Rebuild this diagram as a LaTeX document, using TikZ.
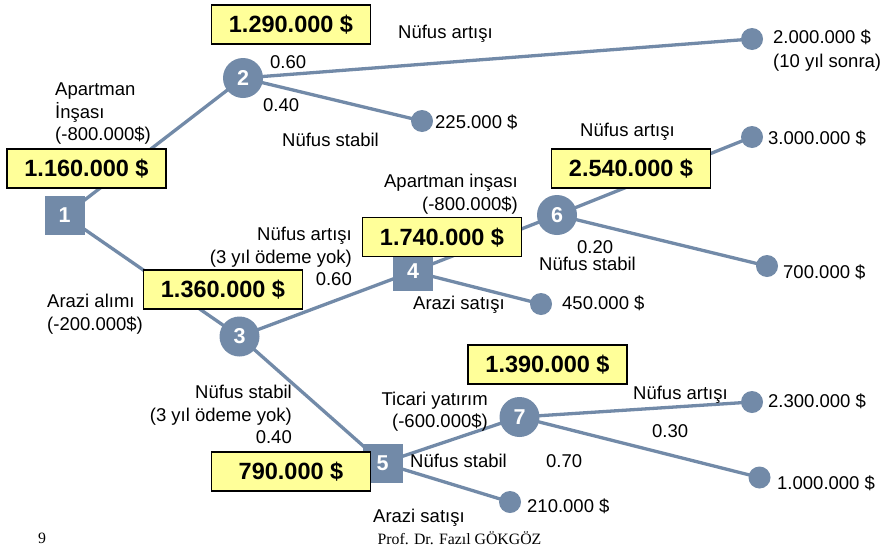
\documentclass[tikz,border=0pt]{standalone}
\usepackage{fontspec}
\setmainfont{Liberation Sans}
\newfontfamily\footfont{Liberation Serif}
\definecolor{nodeblue}{RGB}{114,138,168}
\definecolor{boxyellow}{RGB}{255,255,153}
\begin{document}
\begin{tikzpicture}[x=1pt,y=-1pt,
  edge/.style={draw=nodeblue,line width=3.3pt},
  chance/.style={circle,fill=nodeblue,minimum size=40pt,inner sep=0pt,text=white,font=\fontsize{21.5}{24}\selectfont\bfseries},
  decision/.style={rectangle,fill=nodeblue,minimum width=40pt,minimum height=39pt,inner sep=0pt,text=white,font=\fontsize{21.5}{24}\selectfont\bfseries},
  leaf/.style={circle,fill=nodeblue,minimum size=22pt,inner sep=0pt},
  valbox/.style={rectangle,draw=black,line width=1.2pt,fill=boxyellow,minimum width=159pt,minimum height=39pt,inner sep=0pt,text height=16.8pt,text depth=0pt,font=\fontsize{23.5}{28}\selectfont\bfseries},
  lbl/.style={inner sep=0pt,font=\fontsize{18.5}{22.5}\selectfont},
  foot/.style={inner sep=0pt,font=\footfont\fontsize{15.8}{18}\selectfont},
]
\fill[white] (0,0) rectangle (885,549);
\useasboundingbox (0,0) rectangle (885,549);

% coordinates of nodes
\coordinate (c1) at (64.5,215.5);
\coordinate (c2) at (243,78);
\coordinate (c3) at (239.5,336.5);
\coordinate (c4) at (413,271.5);
\coordinate (c5) at (382.5,463);
\coordinate (c6) at (557,215);
\coordinate (c7) at (519.5,417);
\coordinate (l2a) at (752,39);
\coordinate (l2b) at (422,121);
\coordinate (l6a) at (752,137);
\coordinate (l6b) at (767,266);
\coordinate (l4) at (541,304);
\coordinate (l5) at (510,502);
\coordinate (l7a) at (752,402);
\coordinate (l7b) at (759.5,477.5);

% connectors
\draw[edge] (c1) -- (c2);
\draw[edge] (c1) -- (c3);
\draw[edge] (c2) -- (l2a);
\draw[edge] (c2) -- (l2b);
\draw[edge] (c3) -- (c4);
\draw[edge] (c3) -- (c5);
\draw[edge] (c4) -- (c6);
\draw[edge] (c4) -- (l4);
\draw[edge] (c6) -- (l6a);
\draw[edge] (c6) -- (l6b);
\draw[edge] (c5) -- (c7);
\draw[edge] (c5) -- (l5);
\draw[edge] (c7) -- (l7a);
\draw[edge] (c7) -- (l7b);

% nodes
\node[decision] (n1) at (c1) {1};
\node[chance] (n2) at (c2) {2};
\node[chance] (n3) at (c3) {3};
\node[decision] (n4) at (c4) {4};
\node[decision] (n5) at (c5) {5};
\node[chance] (n6) at (c6) {6};
\node[chance] (n7) at (c7) {7};
\node[leaf] (e2a) at (l2a) {};
\node[leaf] (e2b) at (l2b) {};
\node[leaf] (e6a) at (l6a) {};
\node[leaf] (e6b) at (l6b) {};
\node[leaf] (e4) at (l4) {};
\node[leaf] (e5) at (l5) {};
\node[leaf] (e7a) at (l7a) {};
\node[leaf] (e7b) at (l7b) {};

% value boxes
\node[valbox] (v2) at (291,24.5) {1.290.000 \$};
\node[valbox] (v1) at (86.5,168.5) {1.160.000 \$};
\node[valbox] (v3) at (223,289.5) {1.360.000 \$};
\node[valbox] (v4) at (442,237) {1.740.000 \$};
\node[valbox] (v6) at (631,168.5) {2.540.000 \$};
\node[valbox] (v7) at (547.5,364.5) {1.390.000 \$};
\node[valbox] (v5) at (291,471.5) {790.000 \$};

% labels
\node[lbl,anchor=north west,align=left] (tA) at (55,83) {Apartman\\İnşası\\(-800.000\$)};
\node[lbl,anchor=base west] (tNa1) at (398,38) {Nüfus artışı};
\node[lbl,anchor=base west] (tp1) at (270,68) {0.60};
\node[lbl,anchor=base west] (tp2) at (263,111) {0.40};
\node[lbl,anchor=base west] (tNs1) at (282,146) {Nüfus stabil};
\node[lbl,anchor=north west,align=left,font=\fontsize{18.5}{23.5}\selectfont] (t2a) at (773,30) {2.000.000 \$\\(10 yıl sonra)};
\node[lbl,anchor=base west] (t2b) at (435,128) {225.000 \$};
\node[lbl,anchor=base west] (tNa6) at (580,136) {Nüfus artışı};
\node[lbl,anchor=base west] (t6a) at (768,144) {3.000.000 \$};
\node[lbl,anchor=north east,align=right] (tA4) at (518,174) {Apartman inşası\\(-800.000\$)};
\node[lbl,anchor=base west] (tp6) at (577,253) {0.20};
\node[lbl,anchor=base west] (tNs6) at (539,270) {Nüfus stabil};
\node[lbl,anchor=base west] (t6b) at (783,278) {700.000 \$};
\node[lbl,anchor=north east,align=right] (tNa3) at (352,227) {Nüfus artışı\\(3 yıl ödeme yok)\\0.60};
\node[lbl,anchor=base west] (tAs4) at (413,309) {Arazi satışı};
\node[lbl,anchor=base west] (t4) at (562,309) {450.000 \$};
\node[lbl,anchor=north west,align=left] (tAa) at (47,294) {Arazi alımı\\(-200.000\$)};
\node[lbl,anchor=north east,align=right] (tNs3) at (292,385) {Nüfus stabil\\(3 yıl ödeme yok)\\0.40};
\node[lbl,anchor=north east,align=right,font=\fontsize{18.5}{21.5}\selectfont] (tT) at (488,392) {Ticari yatırım\\(-600.000\$)};
\node[lbl,anchor=base west] (tNs5) at (410,467) {Nüfus stabil};
\node[lbl,anchor=base west] (tp7) at (546,467) {0.70};
\node[lbl,anchor=base west] (t5) at (527,512) {210.000 \$};
\node[lbl,anchor=base west] (tAs5) at (373,522) {Arazi satışı};
\node[lbl,anchor=base west] (tNa7) at (633,399) {Nüfus artışı};
\node[lbl,anchor=base west] (t7a) at (768,407) {2.300.000 \$};
\node[lbl,anchor=base west] (tp7b) at (652,437) {0.30};
\node[lbl,anchor=base west] (t7b) at (777,489) {1.000.000 \$};

% footer
\node[foot,anchor=base west] (pg) at (38,543) {9};
\node[foot,anchor=base] (auth) at (459.5,544) {Prof. Dr. Fazıl GÖKGÖZ};
\end{tikzpicture}
\end{document}
